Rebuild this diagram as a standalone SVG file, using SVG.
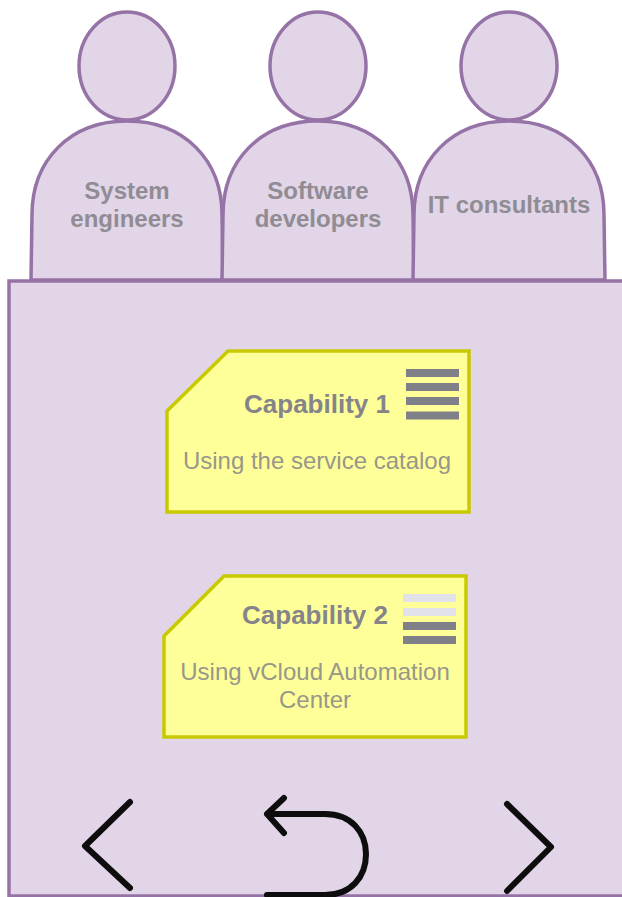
<svg xmlns="http://www.w3.org/2000/svg" width="622" height="897" viewBox="0 0 622 897">
<style>
.p{fill:#e1d5e7;stroke:#9673a6;stroke-width:3.5}
.c{fill:#ffff99;stroke:#c9c900;stroke-width:3.5}
text{font-family:"Liberation Sans",Arial,sans-serif;text-anchor:middle}
.l{font-size:24px;font-weight:bold;fill:#908c94}
.t{font-size:26px;font-weight:bold;fill:#84848a}
.s{font-size:24px;fill:#97978a}
.d{fill:#808088}
.g{fill:#e2e2ea}
.i{fill:none;stroke:#0d0d0d;stroke-width:6;stroke-linecap:round;stroke-linejoin:round}
</style>
<defs>
<path id="body" d="M-96 280L-95 215C-95 160-57 121 0 121C57 121 95 160 95 215L96 280Z"/>
</defs>
<rect width="622" height="897" fill="#fff"/>
<g id="person1">
<ellipse class="p" cx="127" cy="66" rx="48" ry="54"/>
<use href="#body" x="127" class="p"/>
<text class="l" x="127" y="199">System</text>
<text class="l" x="127" y="227">engineers</text>
</g>
<g id="person2">
<ellipse class="p" cx="318" cy="66" rx="48" ry="54"/>
<use href="#body" x="318" class="p"/>
<text class="l" x="318" y="199">Software</text>
<text class="l" x="318" y="227">developers</text>
</g>
<g id="person3">
<ellipse class="p" cx="509" cy="66" rx="48" ry="54"/>
<use href="#body" x="509" class="p"/>
<text class="l" x="509" y="213">IT consultants</text>
</g>
<g id="panel">
<rect class="p" x="9" y="281" width="620" height="615"/>
</g>
<g id="capability1">
<path class="c" d="M167 411L228 351H469V512H167Z"/>
<text class="t" x="317" y="413">Capability 1</text>
<text class="s" x="317" y="469">Using the service catalog</text>
<rect class="d" x="406" y="369" width="53" height="8"/>
<rect class="d" x="406" y="383" width="53" height="8"/>
<rect class="d" x="406" y="397" width="53" height="8"/>
<rect class="d" x="406" y="411.500" width="53" height="8"/>
</g>
<g id="capability2">
<path class="c" d="M164 636L224 576H466V737H164Z"/>
<text class="t" x="315" y="624">Capability 2</text>
<text class="s" x="315" y="680">Using vCloud Automation</text>
<text class="s" x="315" y="708">Center</text>
<rect class="g" x="403" y="594" width="53" height="8"/>
<rect class="g" x="403" y="608" width="53" height="8"/>
<rect class="d" x="403" y="622" width="53" height="8"/>
<rect class="d" x="403" y="636" width="53" height="8"/>
</g>
<g id="nav-previous"><path class="i" d="M130 802L85 846L130 888"/></g>
<g id="nav-back"><path class="i" d="M284 798L267 814L284 833M267 814H325C351 814 366 832 366 854C366 877 351 895 325 895H267"/></g>
<g id="nav-next"><path class="i" d="M507 804L551 847L507 891"/></g>
</svg>
